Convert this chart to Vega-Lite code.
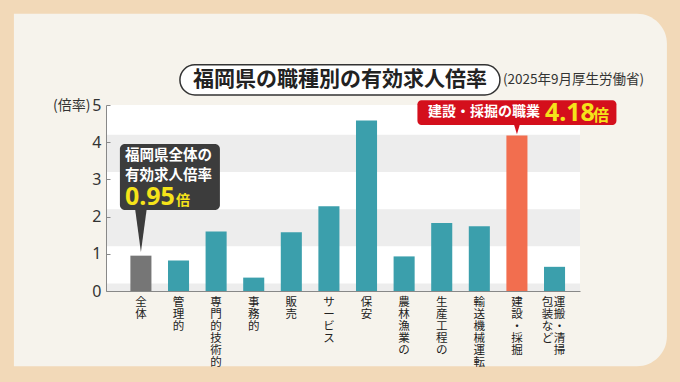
{
  "$schema": "https://vega.github.io/schema/vega-lite/v6.json",
  "width": 474,
  "height": 186,
  "autosize": {"type": "none"},
  "padding": {"left": 106, "top": 105, "right": 100, "bottom": 91},
  "background": "#f2d9b8",
  "config": {
    "view": {"stroke": null, "fill": null},
    "font": "Noto Sans CJK JP",
    "axisY": {
      "labelOverlap": false, "grid": false,
      "domainColor": "#888888", "tickColor": "#888888", "tickSize": -4, "labelPadding": 9,
      "labelFontSize": 16, "labelColor": "#333333", "labelFont": "Noto Sans",
      "titleAngle": 0, "titleAlign": "right", "titleBaseline": "middle",
      "titleX": -16, "titleY": 0, "titleFontSize": 14, "titleFontWeight": "normal", "titleColor": "#333333"
    },
    "axisX": {"labels": false, "ticks": false, "domainColor": "#888888"}
  },
  "data": {
    "values": [
      {"job": "全体", "label": "全体", "label2": "", "value": 0.95},
      {"job": "管理的", "label": "管理的", "label2": "", "value": 0.82},
      {"job": "専門的技術的", "label": "専門的技術的", "label2": "", "value": 1.6},
      {"job": "事務的", "label": "事務的", "label2": "", "value": 0.36},
      {"job": "販売", "label": "販売", "label2": "", "value": 1.58},
      {"job": "サービス", "label": "サービス", "label2": "", "value": 2.28},
      {"job": "保安", "label": "保安", "label2": "", "value": 4.58},
      {"job": "農林漁業の", "label": "農林漁業の", "label2": "", "value": 0.93},
      {"job": "生産工程の", "label": "生産工程の", "label2": "", "value": 1.83},
      {"job": "輸送機械運転", "label": "輸送機械運転", "label2": "", "value": 1.74},
      {"job": "建設・採掘", "label": "建設・採掘", "label2": "", "value": 4.18},
      {"job": "運搬・清掃・包装など", "label": "運搬・清掃", "label2": "包装など", "value": 0.65}
    ]
  },
  "layer": [
    {
      "data": {"values": [{}]},
      "mark": {"type": "bar", "width": 653, "xOffset": 11.5, "color": "#f6f3ec", "cornerRadiusTopRight": 30, "cornerRadiusBottomRight": 30},
      "encoding": {
        "x": {"datum": "サービス", "type": "nominal", "axis": {"title": null, "zindex": 1}},
        "y": {"datum": 7.45, "type": "quantitative", "axis": {"values": [0, 1, 2, 3, 4, 5], "labelOverlap": false, "title": "(倍率)", "zindex": 1}},
        "y2": {"datum": -2.02}
      }
    },
    {
      "data": {"values": [{}]},
      "mark": {"type": "rect", "color": "#ffffff"},
      "encoding": {
        "y": {"datum": 0, "type": "quantitative", "axis": {"values": [0, 1, 2, 3, 4, 5], "labelOverlap": false, "title": "(倍率)", "zindex": 1}},
        "y2": {"datum": 5}
      }
    },
    {
      "data": {"values": [{"lo": 0, "hi": 0.2}, {"lo": 1.2, "hi": 2.2}, {"lo": 3.2, "hi": 4.2}]},
      "mark": {"type": "rect", "color": "#ededed"},
      "encoding": {
        "y": {"field": "lo", "type": "quantitative", "axis": {"values": [0, 1, 2, 3, 4, 5], "labelOverlap": false, "title": "(倍率)", "zindex": 1}},
        "y2": {"field": "hi"}
      }
    },
    {
      "mark": {"type": "bar"},
      "encoding": {
        "x": {
          "field": "job", "type": "nominal",
          "scale": {
            "domain": ["全体", "管理的", "専門的技術的", "事務的", "販売", "サービス", "保安", "農林漁業の", "生産工程の", "輸送機械運転", "建設・採掘", "運搬・清掃・包装など"],
            "paddingInner": 0.44, "paddingOuter": 0.523, "align": 0.62
          },
          "axis": {"title": null, "zindex": 1}
        },
        "y": {
          "field": "value", "type": "quantitative",
          "scale": {"domain": [0, 5], "nice": false},
          "axis": {"values": [0, 1, 2, 3, 4, 5], "labelOverlap": false, "title": "(倍率)", "zindex": 1}
        },
        "color": {
          "field": "job", "type": "nominal", "legend": null,
          "scale": {
            "domain": ["全体", "管理的", "専門的技術的", "事務的", "販売", "サービス", "保安", "農林漁業の", "生産工程の", "輸送機械運転", "建設・採掘", "運搬・清掃・包装など"],
            "range": ["#767676", "#3b9fac", "#3b9fac", "#3b9fac", "#3b9fac", "#3b9fac", "#3b9fac", "#3b9fac", "#3b9fac", "#3b9fac", "#f26e4f", "#3b9fac"]
          }
        }
      }
    },
    {
      "transform": [{"filter": "datum.label2 == ''"}, {"calculate": "split(datum.label, '')", "as": "chars"}],
      "mark": {"type": "text", "baseline": "top", "dy": 6, "fontSize": 11.5, "lineHeight": 12, "color": "#222222"},
      "encoding": {
        "x": {"field": "job", "type": "nominal", "axis": {"title": null, "zindex": 1}},
        "y": {"datum": 0, "type": "quantitative", "axis": {"values": [0, 1, 2, 3, 4, 5], "labelOverlap": false, "title": "(倍率)", "zindex": 1}},
        "text": {"field": "chars"}
      }
    },
    {
      "transform": [{"filter": "datum.label2 != ''"}, {"calculate": "split(datum.label, '')", "as": "chars"}],
      "mark": {"type": "text", "baseline": "top", "dy": 6, "dx": 5, "fontSize": 11.5, "lineHeight": 12, "color": "#222222"},
      "encoding": {
        "x": {"field": "job", "type": "nominal", "axis": {"title": null, "zindex": 1}},
        "y": {"datum": 0, "type": "quantitative", "axis": {"values": [0, 1, 2, 3, 4, 5], "labelOverlap": false, "title": "(倍率)", "zindex": 1}},
        "text": {"field": "chars"}
      }
    },
    {
      "transform": [{"filter": "datum.label2 != ''"}, {"calculate": "split(datum.label2, '')", "as": "chars"}],
      "mark": {"type": "text", "baseline": "top", "dy": 6, "dx": -7, "fontSize": 11.5, "lineHeight": 12, "color": "#222222"},
      "encoding": {
        "x": {"field": "job", "type": "nominal", "axis": {"title": null, "zindex": 1}},
        "y": {"datum": 0, "type": "quantitative", "axis": {"values": [0, 1, 2, 3, 4, 5], "labelOverlap": false, "title": "(倍率)", "zindex": 1}},
        "text": {"field": "chars"}
      }
    },
    {
      "data": {"values": [{}]},
      "mark": {"type": "bar", "width": 320, "xOffset": 11, "color": "#ffffff", "stroke": "#333333", "strokeWidth": 1.5, "cornerRadius": 15},
      "encoding": {
        "x": {"datum": "サービス", "type": "nominal", "axis": {"title": null, "zindex": 1}},
        "y": {"datum": 6.08, "type": "quantitative", "axis": {"values": [0, 1, 2, 3, 4, 5], "labelOverlap": false, "title": "(倍率)", "zindex": 1}},
        "y2": {"datum": 5.27}
      }
    },
    {
      "data": {"values": [{}]},
      "mark": {"type": "text", "text": "福岡県の職種別の有効求人倍率", "align": "center", "baseline": "middle", "dx": 11, "fontSize": 21, "fontWeight": "bold", "color": "#222222"},
      "encoding": {
        "x": {"datum": "サービス", "type": "nominal", "axis": {"title": null, "zindex": 1}},
        "y": {"datum": 5.67, "type": "quantitative", "axis": {"values": [0, 1, 2, 3, 4, 5], "labelOverlap": false, "title": "(倍率)", "zindex": 1}}
      }
    },
    {
      "data": {"values": [{}]},
      "mark": {"type": "text", "text": "(2025年9月厚生労働省)", "align": "left", "baseline": "middle", "dx": 174, "fontSize": 13.5, "color": "#333333"},
      "encoding": {
        "x": {"datum": "サービス", "type": "nominal", "axis": {"title": null, "zindex": 1}},
        "y": {"datum": 5.67, "type": "quantitative", "axis": {"values": [0, 1, 2, 3, 4, 5], "labelOverlap": false, "title": "(倍率)", "zindex": 1}}
      }
    },
    {
      "data": {"values": [{}]},
      "mark": {"type": "bar", "width": 100, "xOffset": 29, "color": "#3c3c3c", "cornerRadius": 5},
      "encoding": {
        "x": {"datum": "全体", "type": "nominal", "axis": {"title": null, "zindex": 1}},
        "y": {"datum": 3.95, "type": "quantitative", "axis": {"values": [0, 1, 2, 3, 4, 5], "labelOverlap": false, "title": "(倍率)", "zindex": 1}},
        "y2": {"datum": 2.18}
      }
    },
    {
      "data": {"values": [{}]},
      "mark": {"type": "point", "shape": "M-0.27,-1L0.27,-1L0,1Z", "size": 1936, "filled": true, "opacity": 1, "color": "#3c3c3c"},
      "encoding": {
        "x": {"datum": "全体", "type": "nominal", "axis": {"title": null, "zindex": 1}},
        "y": {"datum": 1.64, "type": "quantitative", "axis": {"values": [0, 1, 2, 3, 4, 5], "labelOverlap": false, "title": "(倍率)", "zindex": 1}}
      }
    },
    {
      "data": {"values": [{}]},
      "mark": {"type": "text", "text": ["福岡県全体の", "有効求人倍率"], "align": "left", "baseline": "top", "dx": -16, "fontSize": 14.5, "lineHeight": 20, "fontWeight": "bold", "color": "#ffffff"},
      "encoding": {
        "x": {"datum": "全体", "type": "nominal", "axis": {"title": null, "zindex": 1}},
        "y": {"datum": 3.82, "type": "quantitative", "axis": {"values": [0, 1, 2, 3, 4, 5], "labelOverlap": false, "title": "(倍率)", "zindex": 1}}
      }
    },
    {
      "transform": [{"filter": "datum.job == '全体'"}],
      "mark": {"type": "text", "align": "left", "baseline": "alphabetic", "dx": -16, "fontSize": 25, "fontWeight": "bold", "font": "Noto Sans", "color": "#f5e31a"},
      "encoding": {
        "x": {"field": "job", "type": "nominal", "axis": {"title": null, "zindex": 1}},
        "y": {"datum": 2.31, "type": "quantitative", "axis": {"values": [0, 1, 2, 3, 4, 5], "labelOverlap": false, "title": "(倍率)", "zindex": 1}},
        "text": {"field": "value", "format": ".2f"}
      }
    },
    {
      "data": {"values": [{}]},
      "mark": {"type": "text", "text": "倍", "align": "left", "baseline": "alphabetic", "dx": 35, "fontSize": 14, "fontWeight": "bold", "color": "#f5e31a"},
      "encoding": {
        "x": {"datum": "全体", "type": "nominal", "axis": {"title": null, "zindex": 1}},
        "y": {"datum": 2.31, "type": "quantitative", "axis": {"values": [0, 1, 2, 3, 4, 5], "labelOverlap": false, "title": "(倍率)", "zindex": 1}}
      }
    },
    {
      "data": {"values": [{}]},
      "mark": {"type": "bar", "width": 199, "color": "#d40f1c", "cornerRadius": 4},
      "encoding": {
        "x": {"datum": "建設・採掘", "type": "nominal", "axis": {"title": null, "zindex": 1}},
        "y": {"datum": 5.13, "type": "quantitative", "axis": {"values": [0, 1, 2, 3, 4, 5], "labelOverlap": false, "title": "(倍率)", "zindex": 1}},
        "y2": {"datum": 4.46}
      }
    },
    {
      "data": {"values": [{}]},
      "mark": {"type": "point", "shape": "M-0.6,-1L0.6,-1L0,1Z", "size": 100, "filled": true, "opacity": 1, "color": "#d40f1c"},
      "encoding": {
        "x": {"datum": "建設・採掘", "type": "nominal", "axis": {"title": null, "zindex": 1}},
        "y": {"datum": 4.35, "type": "quantitative", "axis": {"values": [0, 1, 2, 3, 4, 5], "labelOverlap": false, "title": "(倍率)", "zindex": 1}}
      }
    },
    {
      "data": {"values": [{}]},
      "mark": {"type": "text", "text": "建設・採掘の職業", "align": "left", "baseline": "middle", "dx": -89, "fontSize": 14, "fontWeight": "bold", "color": "#ffffff"},
      "encoding": {
        "x": {"datum": "建設・採掘", "type": "nominal", "axis": {"title": null, "zindex": 1}},
        "y": {"datum": 4.81, "type": "quantitative", "axis": {"values": [0, 1, 2, 3, 4, 5], "labelOverlap": false, "title": "(倍率)", "zindex": 1}}
      }
    },
    {
      "transform": [{"filter": "datum.job == '建設・採掘'"}],
      "mark": {"type": "text", "align": "left", "baseline": "alphabetic", "dx": 28, "fontSize": 25, "fontWeight": "bold", "font": "Noto Sans", "color": "#f5e31a"},
      "encoding": {
        "x": {"field": "job", "type": "nominal", "axis": {"title": null, "zindex": 1}},
        "y": {"datum": 4.57, "type": "quantitative", "axis": {"values": [0, 1, 2, 3, 4, 5], "labelOverlap": false, "title": "(倍率)", "zindex": 1}},
        "text": {"field": "value", "format": ".2f"}
      }
    },
    {
      "data": {"values": [{}]},
      "mark": {"type": "text", "text": "倍", "align": "left", "baseline": "alphabetic", "dx": 76, "fontSize": 16, "fontWeight": "bold", "color": "#f5e31a"},
      "encoding": {
        "x": {"datum": "建設・採掘", "type": "nominal", "axis": {"title": null, "zindex": 1}},
        "y": {"datum": 4.57, "type": "quantitative", "axis": {"values": [0, 1, 2, 3, 4, 5], "labelOverlap": false, "title": "(倍率)", "zindex": 1}}
      }
    }
  ]
}
